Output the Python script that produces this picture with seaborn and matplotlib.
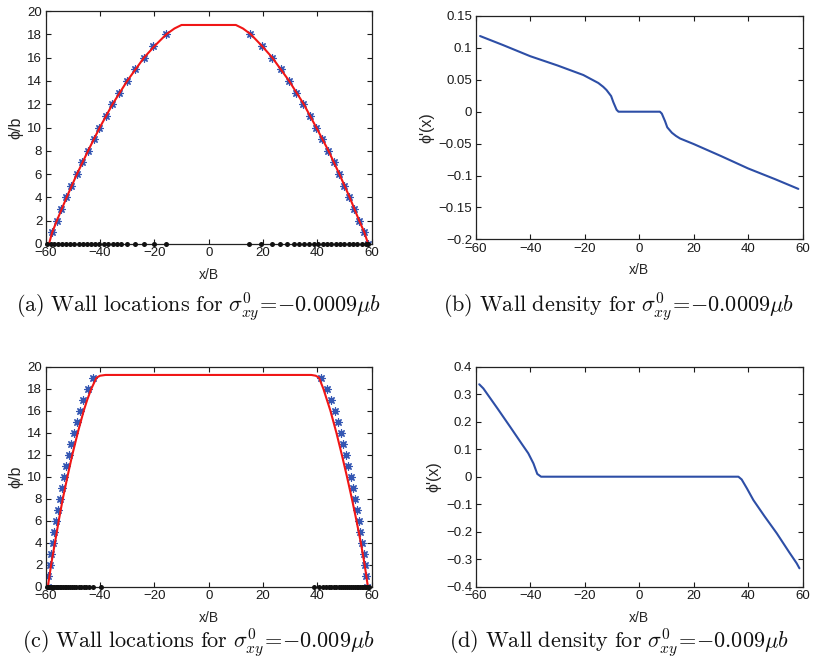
import numpy as np
import pandas as pd
import matplotlib
matplotlib.use("Agg")
import matplotlib.pyplot as plt
import seaborn as sns
from matplotlib.ticker import FuncFormatter, MultipleLocator

# ---------------- data ----------------
# Panel (a): wall locations, sigma = -0.0009 mu b
a_star_left_x = [-57.8, -55.95, -54.2, -52.4, -50.6, -48.6, -46.6, -44.5, -42.3, -40.2,
                 -37.9, -35.5, -32.9, -30.1, -27.1, -23.9, -20.4, -15.8]
a_star_left_y = [1, 2, 3, 4, 5, 6, 7, 8, 9, 10, 11, 12, 13, 14, 15, 16, 17, 18]
a_star_right_x = [15.2, 19.5, 23.2, 26.5, 29.4, 32.1, 34.8, 37.3, 39.5, 41.8, 44.0, 46.0,
                  48.0, 49.9, 51.8, 53.5, 55.3, 57.2, 58.6]
a_star_right_y = [18, 17, 16, 15, 14, 13, 12, 11, 10, 9, 8, 7, 6, 5, 4, 3, 2, 1, 0]
a_dots_x = [-59.4, -58.2, -56.8, -55.3, -53.9, -52.4, -50.9, -49.4, -47.9, -46.4, -44.9,
            -43.3, -41.8, -40.2, -38.6, -37.0, -35.4, -33.9, -32.3, -30.1, -27.1, -23.8,
            -20.3, -15.6,
            14.9, 19.4, 23.3, 26.4, 29.0, 31.5, 33.4, 35.2, 37.0, 38.6, 40.3, 41.9, 43.5,
            45.1, 46.8, 48.4, 49.9, 51.6, 53.1, 54.7, 56.3, 57.8, 58.5]
a_red_x = [-58.8, -57.6, -55.9, -52.3, -48.5, -44.4, -40.1, -35.4, -30.0, -23.8, -19.9,
           -15.6, -12.6, -10.0, 10.0, 12.6, 15.5, 19.6, 23.4, 29.6, 35.0, 39.6, 44.1,
           48.1, 51.9, 55.4, 57.3, 58.7]
a_red_y = [0, 1, 2, 4, 6, 8, 10, 12, 14, 16, 17, 18, 18.5, 18.8, 18.8, 18.5, 18, 17, 16,
           14, 12, 10, 8, 6, 4, 2, 1, 0]

# Panel (b): wall density, sigma = -0.0009 mu b
b_x = [-58.4, -50, -40, -30, -20.5, -15, -13.2, -12, -10.3, -9.5, -8.3, -7.6,
       7.6, 8.3, 9.5, 10.3, 12, 13.5, 15, 20, 30, 40, 50, 58.4]
b_y = [0.1186, 0.1045, 0.087, 0.0725, 0.0575, 0.045, 0.039, 0.034, 0.0245, 0.015,
       0.003, 0.0, 0.0, -0.003, -0.015, -0.0245, -0.033, -0.038, -0.042, -0.0507,
       -0.0695, -0.089, -0.106, -0.121]

# Panel (c): wall locations, sigma = -0.009 mu b
c_star_left_x = [-59.1, -59.0, -58.5, -58.0, -57.4, -57.0, -56.3, -55.6, -54.9, -54.1,
                 -53.3, -52.5, -51.6, -50.7, -49.7, -48.5, -47.4, -46.2, -44.3, -42.5]
c_star_left_y = [0, 1, 2, 3, 4, 5, 6, 7, 8, 9, 10, 11, 12, 13, 14, 15, 16, 17, 18, 19]
c_star_right_x = [41.4, 43.5, 45.0, 46.4, 47.6, 48.6, 49.6, 50.6, 51.4, 52.2, 53.0, 53.8,
                  54.5, 55.2, 55.8, 56.4, 57.1, 57.5, 58.0, 58.2]
c_star_right_y = [19, 18, 17, 16, 15, 14, 13, 12, 11, 10, 9, 8, 7, 6, 5, 4, 3, 2, 1, 0]
c_dots_x = [-59.6, -59.2, -58.8, -58.4, -58.0, -57.6, -57.2, -56.8, -56.3, -55.8, -55.3,
            -54.8, -54.2, -53.6, -53.0, -52.4, -51.7, -51.0, -50.3, -49.5, -48.7, -47.8,
            -46.9, -46.0, -45.0, -44.0, -42.5, -39.8,
            38.6, 40.7, 42.2, 43.3, 44.3, 45.2, 46.1, 47.0, 47.8, 48.6, 49.4, 50.2, 51.0,
            51.7, 52.4, 53.1, 53.8, 54.5, 55.1, 55.7, 56.3, 56.9, 57.5, 58.0, 58.5, 59.0]
c_red_x = [-59.2, -58.0, -56.6, -55.2, -53.7, -52.0, -50.2, -48.2, -46.0, -44.7, -43.2,
           -41.3, -40.0, -38.0, 37.8, 39.4, 40.6, 42.2, 43.5, 44.8, 47.0, 49.0, 50.9,
           52.7, 54.4, 56.0, 57.4, 58.6]
c_red_y = [0, 2, 4, 6, 8, 10, 12, 14, 16, 17, 18, 19, 19.18, 19.25, 19.25, 19.18, 19, 18,
           17, 16, 14, 12, 10, 8, 6, 4, 2, 0]

# Panel (d): wall density, sigma = -0.009 mu b
d_x = [-58.7, -57.2, -52, -47.4, -43, -40.7, -38.8, -37.4, -36.0,
       36.4, 37.6, 39.5, 41.9, 46, 50.5, 55, 57.8, 58.8]
d_y = [0.336, 0.321, 0.248, 0.182, 0.118, 0.085, 0.048, 0.01, 0.0,
       0.0, -0.01, -0.042, -0.085, -0.144, -0.206, -0.274, -0.315, -0.333]

captions = [r"$\mathrm{(a)\ Wall\ locations\ for\ }\sigma^0_{xy}\!=\!{-}0.0009\mu b$",
            r"$\mathrm{(b)\ Wall\ density\ for\ }\sigma^0_{xy}\!=\!{-}0.0009\mu b$",
            r"$\mathrm{(c)\ Wall\ locations\ for\ }\sigma^0_{xy}\!=\!{-}0.009\mu b$",
            r"$\mathrm{(d)\ Wall\ density\ for\ }\sigma^0_{xy}\!=\!{-}0.009\mu b$"]

# ---------------- style ----------------
sns.set_theme(style="ticks")
plt.rcParams['font.family'] = ['Liberation Sans', 'DejaVu Sans']
plt.rcParams['mathtext.fontset'] = 'cm'

RED = '#f01616'
BLUE_STAR = '#3557b3'
BLUE_LINE = '#2d4ea6'

fig = plt.figure(figsize=(8.15, 6.62), dpi=100)
W, H = 815.0, 662.0


def add_ax(l, r, t, b):
    return fig.add_axes([l / W, 1 - b / H, (r - l) / W, (b - t) / H])


axa = add_ax(45.7, 371.7, 11, 244)
axb = add_ax(475.7, 802.7, 16, 239.3)
axc = add_ax(45.7, 371.7, 366.7, 586.7)
axd = add_ax(475.7, 802.7, 366.7, 586.7)


def fmt(v, pos):
    s = ('%g' % round(v, 6))
    if s == '-0':
        s = '0'
    return s.replace('-', '\u2212')


def style(ax, ylabel, ylim, ystep):
    ax.set_xlim(-60, 60)
    ax.set_ylim(*ylim)
    ax.xaxis.set_major_locator(MultipleLocator(20))
    ax.yaxis.set_major_locator(MultipleLocator(ystep))
    ax.xaxis.set_major_formatter(FuncFormatter(fmt))
    ax.yaxis.set_major_formatter(FuncFormatter(fmt))
    ax.tick_params(direction='in', top=True, right=True, length=3.5, width=0.8,
                   labelsize=9.5, colors='#1a1a1a', pad=2.5)
    for sp in ax.spines.values():
        sp.set_visible(True)
        sp.set_linewidth(0.9)
        sp.set_color('#222222')
    ax.set_xlabel('x/B', fontsize=10, labelpad=6)
    ax.set_ylabel(ylabel, fontsize=11.5, labelpad=3)
    ax.set_facecolor('white')


def loc_panel(ax, rx, ry, slx, sly, srx, sry, dx):
    sns.lineplot(x=rx, y=ry, ax=ax, color=RED, linewidth=1.5, sort=False,
                 estimator=None, zorder=3)
    sns.scatterplot(x=slx + srx, y=sly + sry, ax=ax, marker=(8, 2, 0), s=28,
                    color=BLUE_STAR, edgecolor=BLUE_STAR, linewidth=0.9, zorder=2)
    sns.scatterplot(x=dx, y=[0] * len(dx), ax=ax, marker='o', s=13, color='#111111',
                    edgecolor='#111111', linewidth=0, zorder=4, clip_on=False)


loc_panel(axa, a_red_x, a_red_y, a_star_left_x, a_star_left_y, a_star_right_x,
          a_star_right_y, a_dots_x)
style(axa, '\u03d5/b', (0, 20), 2)

sns.lineplot(x=b_x, y=b_y, ax=axb, color=BLUE_LINE, linewidth=1.5, sort=False,
             estimator=None)
style(axb, "\u03d5'(x)", (-0.2, 0.15), 0.05)

loc_panel(axc, c_red_x, c_red_y, c_star_left_x, c_star_left_y, c_star_right_x,
          c_star_right_y, c_dots_x)
style(axc, '\u03d5/b', (0, 20), 2)

sns.lineplot(x=d_x, y=d_y, ax=axd, color=BLUE_LINE, linewidth=1.5, sort=False,
             estimator=None)
style(axd, "\u03d5'(x)", (-0.4, 0.4), 0.1)

cap_pos = [(199, 307), (618, 307), (198, 643), (619, 643)]
for (cx, cy), txt in zip(cap_pos, captions):
    fig.text(cx / W, 1 - cy / H, txt, ha='center', va='center', fontsize=16,
             color='#111111')

fig.savefig('out.png', dpi=100, facecolor='white')
